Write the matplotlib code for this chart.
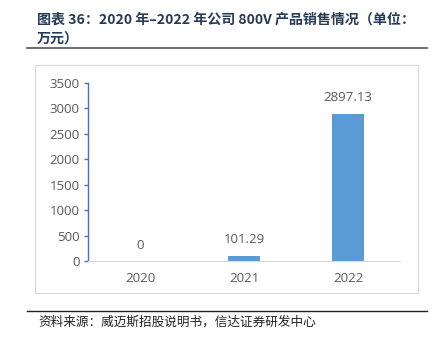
import matplotlib
matplotlib.use("Agg")
import matplotlib.pyplot as plt
from matplotlib.patches import Rectangle
from matplotlib.lines import Line2D

plt.rcParams['font.family'] = ['Noto Sans CJK SC', 'DejaVu Sans']

# Data
years = ["2020", "2021", "2022"]
sales = [0, 101.29, 2897.13]
y_ticks = [0, 500, 1000, 1500, 2000, 2500, 3000, 3500]

source_text = "资料来源：威迈斯招股说明书，信达证券研发中心"

W, H = 438, 337
fig = plt.figure(figsize=(W / 100, H / 100), dpi=100)

def fx(px):
    return px / W

def fy(py):
    return 1 - py / H

num_font = ['Open Sans', 'DejaVu Sans']
grey = '#595959'

# Title block
fig.text(fx(37), fy(20), "图表 36：2020 年–2022 年公司 800V 产品销售情况（单位：",
         fontsize=10.1, fontweight='bold', color='#243b5a', va='center', ha='left')
fig.text(fx(37), fy(39), "万元）",
         fontsize=10.1, fontweight='bold', color='#243b5a', va='center', ha='left')
fig.add_artist(Line2D([fx(27), fx(427)], [fy(48), fy(48)], color='#555555', lw=1.2,
                      transform=fig.transFigure))

# Chart frame
fig.add_artist(Rectangle((fx(35), fy(293)), fx(418) - fx(35), fy(65) - fy(293),
                         transform=fig.transFigure, fill=False, edgecolor='#d9d9d9', lw=0.8))

# Source block
fig.add_artist(Line2D([fx(27), fx(427)], [fy(311), fy(311)], color='#222222', lw=1.0,
                      transform=fig.transFigure))
fig.text(fx(38), fy(322), source_text, fontsize=9.1, color='#222222', va='center', ha='left')

# Plot area
ax = fig.add_axes([fx(88), fy(261), fx(400) - fx(88), fy(83) - fy(261)])
x = list(range(len(years)))
bars = ax.bar(x, sales, width=0.31, color='#5b9bd5')
ax.set_xlim(-0.5, len(years) - 0.5)
ax.set_ylim(0, 3500)
ax.set_yticks(y_ticks)
ax.set_xticks(x)
ax.set_xticklabels(years)

for xi, v in zip(x, sales):
    ax.annotate(f"{v:g}", (xi, v), xytext=(0, 11.5), textcoords='offset points',
                ha='center', va='center', fontsize=9.5, color=grey, family=num_font)

for s in ['top', 'right']:
    ax.spines[s].set_visible(False)
ax.spines['left'].set_color('#4472c4')
ax.spines['left'].set_linewidth(1.0)
ax.spines['bottom'].set_color('#d9d9d9')
ax.spines['bottom'].set_linewidth(0.8)

ax.tick_params(axis='y', colors='#4472c4', labelcolor=grey, length=3, width=1.0,
               labelsize=9.5, pad=3)
ax.tick_params(axis='x', length=0, labelcolor=grey, labelsize=9.5, pad=8)
for lab in ax.get_xticklabels() + ax.get_yticklabels():
    lab.set_family(num_font)

fig.savefig("out.png", dpi=100)
